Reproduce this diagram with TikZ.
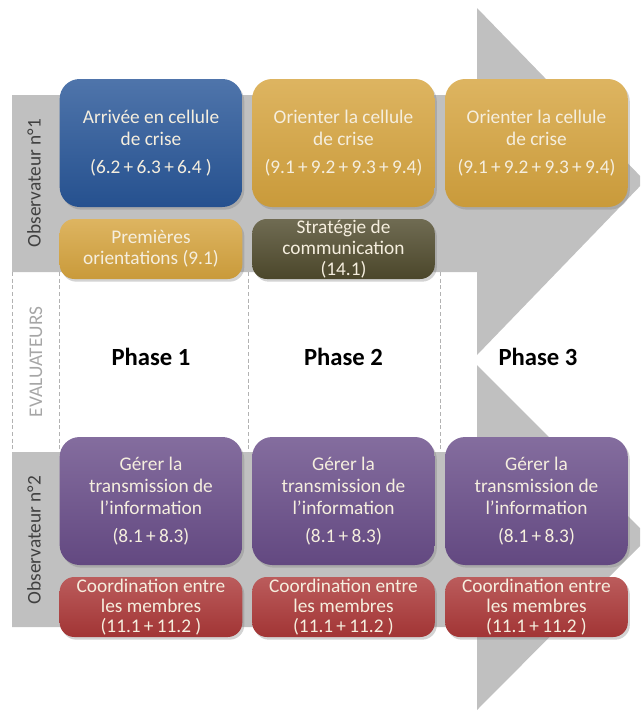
\documentclass[tikz,border=0pt]{standalone}
\usepackage{fontspec}
\setmainfont{Carlito}
\usetikzlibrary{shadows}
\definecolor{arrowgray}{RGB}{192,192,192}
\definecolor{cellblue}{RGB}{40,86,152}
\definecolor{cellgold}{RGB}{214,164,62}
\definecolor{cellolive}{RGB}{80,75,45}
\definecolor{cellpurple}{RGB}{105,77,137}
\definecolor{cellred}{RGB}{172,56,56}
\definecolor{celltext}{RGB}{245,238,222}
\newcommand{\plus}{\,+\,}

\begin{document}
\begin{tikzpicture}[x=0.75pt,y=-0.75pt,
    cell/.style={align=center, text=celltext,
        font=\fontsize{14.5}{16.5}\selectfont,
        minimum width=137pt, rounded corners=15pt,
        drop shadow={shadow xshift=1.5pt,shadow yshift=-2pt,opacity=0.35}},
    bigcell/.style={cell, minimum height=96pt},
    smallcell/.style={cell, minimum height=45pt, inner ysep=0pt,
        rounded corners=11pt, font=\fontsize{14.5}{15.5}\selectfont},
    fillcell/.style={top color=#1!82!white, bottom color=#1!94!black},
    observer/.style={rotate=90, text=black!75, font=\fontsize{14.5}{16.5}\selectfont},
    phase/.style={font=\fontsize{18.5}{20}\selectfont\bfseries}]
    \useasboundingbox (0,0) rectangle (640,711);
    \clip (0,0) rectangle (640,711);
    % the two gray arrows
    \fill[arrowgray] (12,95) -- (477,95) -- (477,8) -- (645,181) --
        (477,355) -- (477,272) -- (12,272) -- cycle;
    \fill[arrowgray] (12,452) -- (477,452) -- (477,365) -- (649,537) --
        (477,710) -- (477,627) -- (12,627) -- cycle;
    % evaluator strip
    \foreach \xd in {12,59,248,440} {
        \draw[gray!60, densely dashed, thin] (\xd,272) -- (\xd,452);
    }
    \node[observer] (obsA) at (34,183) {Observateur n°1};
    \node[observer, text=black!35] (evals) at (36,362) {EVALUATEURS};
    \node[observer] (obsB) at (34,540) {Observateur n°2};
    % observer 1
    \node[bigcell, fillcell=cellblue] (arrivee) at (151,143)
        {Arrivée en cellule\\de crise\\[5pt](6.2\plus 6.3\plus 6.4 )};
    \node[bigcell, fillcell=cellgold] (orientA) at (343.5,143)
        {Orienter la cellule\\de crise\\[5pt](9.1\plus 9.2\plus 9.3\plus 9.4)};
    \node[bigcell, fillcell=cellgold] (orientB) at (536.5,143)
        {Orienter la cellule\\de crise\\[5pt](9.1\plus 9.2\plus 9.3\plus 9.4)};
    \node[smallcell, fillcell=cellgold] (premieres) at (151,249)
        {Premières\\orientations (9.1)};
    \node[smallcell, fillcell=cellolive] (strategie) at (343.5,249)
        {Stratégie de\\communication\\(14.1)};
    % phases
    \node[phase] (phaseA) at (151,357) {Phase 1};
    \node[phase] (phaseB) at (343.5,357) {Phase 2};
    \node[phase] (phaseC) at (538,357) {Phase 3};
    % observer 2
    \foreach \xc/\nm in {151/A,343.5/B,536.5/C} {
        \node[bigcell, fillcell=cellpurple] (gerer\nm) at (\xc,501)
            {Gérer la\\transmission de\\l’information\\[5pt](8.1\plus 8.3)};
        \node[smallcell, fillcell=cellred, font=\fontsize{14.5}{15}\selectfont]
            (coord\nm) at (\xc,607) {Coordination entre\\les membres\\(11.1\plus 11.2 )};
    }
\end{tikzpicture}
\end{document}
